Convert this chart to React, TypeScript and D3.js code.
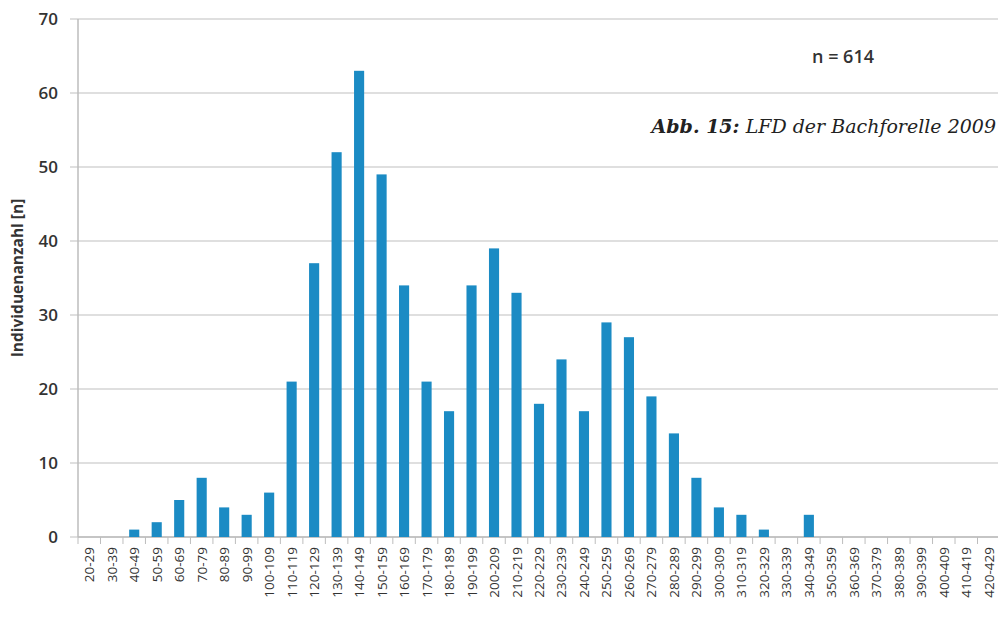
import React from "react";
import * as d3 from "d3";

const categories = [
  "20-29","30-39","40-49","50-59","60-69","70-79","80-89","90-99","100-109","110-119",
  "120-129","130-139","140-149","150-159","160-169","170-179","180-189","190-199","200-209","210-219",
  "220-229","230-239","240-249","250-259","260-269","270-279","280-289","290-299","300-309","310-319",
  "320-329","330-339","340-349","350-359","360-369","370-379","380-389","390-399","400-409","410-419","420-429",
];
const counts = [
  0,0,1,2,5,8,4,3,6,21,
  37,52,63,49,34,21,17,34,39,33,
  18,24,17,29,27,19,14,8,4,3,
  1,0,3,0,0,0,0,0,0,0,0,
];
const yTicks = [0, 10, 20, 30, 40, 50, 60, 70];

const W = 1005, H = 618;
const left = 78, right = 1000, top = 19, bottom = 537;

export default function App() {
  const x = d3.scaleBand<string>().domain(categories).range([left, right]).paddingInner(0.55).paddingOuter(0.275);
  const xb = d3.scaleBand<string>().domain(categories).range([left, right]);
  const y = d3.scaleLinear().domain([0, 70]).range([bottom, top]);
  const font = "'Open Sans', 'Noto Sans', sans-serif";
  return (
    <svg width={W} height={H} style={{ position: "absolute", left: 0, top: 0, background: "#fff" }}>
      {yTicks.map((t) => (
        <g key={t}>
          <line x1={70} x2={998} y1={y(t)} y2={y(t)} stroke="#d4d4d4" strokeWidth={1.5} />
          <text x={58} y={y(t)} dy="0.36em" textAnchor="end" fontFamily={font} fontSize={17} fontWeight={600} fill="#333">{t}</text>
        </g>
      ))}
      <line x1={left} x2={left} y1={top} y2={bottom} stroke="#bdbdbd" strokeWidth={1.5} />
      <line x1={left} x2={998} y1={bottom} y2={bottom} stroke="#bdbdbd" strokeWidth={1.5} />
      {categories.map((c) => (
        <line key={"t" + c} x1={xb(c)!} x2={xb(c)!} y1={bottom} y2={bottom + 7} stroke="#bdbdbd" strokeWidth={1} />
      ))}
      {categories.map((c, i) => (
        <rect key={c} x={x(c)!} width={x.bandwidth()} y={y(counts[i])} height={bottom - y(counts[i])} fill="#1b8bc4" />
      ))}
      {categories.map((c) => {
        const cx = xb(c)! + xb.bandwidth() / 2;
        return (
          <text key={"l" + c} transform={`translate(${cx + 5},${547}) rotate(-90)`} textAnchor="end" fontFamily={font} fontSize={13.5} fill="#333">{c}</text>
        );
      })}
      <text transform={`translate(23,${(top + bottom) / 2}) rotate(-90)`} textAnchor="middle" fontFamily={font} fontSize={15.5} fontWeight={700} fill="#333">Individuenanzahl [n]</text>
      <text x={843} y={63} textAnchor="middle" fontFamily={font} fontSize={18} fontWeight={600} fill="#333">n = 614</text>
      <text x={996} y={133} textAnchor="end" fontFamily="'DejaVu Serif', serif" fontStyle="italic" fontSize={19} fill="#222">
        <tspan fontWeight={700}>Abb. 15:</tspan> LFD der Bachforelle 2009
      </text>
    </svg>
  );
}
